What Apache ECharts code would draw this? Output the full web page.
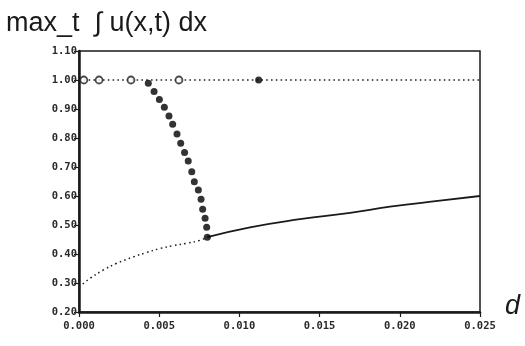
<!DOCTYPE html>
<html>
<head>
<meta charset="utf-8">
<script src="https://cdn.jsdelivr.net/npm/echarts@6/dist/echarts.min.js"></script>
<style>html,body{margin:0;padding:0;background:#fff;}#c{width:525px;height:346px;}</style>
</head>
<body>
<div id="c"></div>
<script>
// ---- data ----
var titleText = "max_t  \u222B u(x,t) dx";
var xAxisLabel = "d";
var xTicks = [0.000, 0.005, 0.010, 0.015, 0.020, 0.025];
var yTicks = [0.20, 0.30, 0.40, 0.50, 0.60, 0.70, 0.80, 0.90, 1.00, 1.10];

// upper branch (dotted line at 1.0)
var upperLine = [[0.0, 1.0], [0.025, 1.0]];
// open circle markers on the upper branch
var openCircles = [[0.0003, 1.0], [0.00125, 1.0], [0.00324, 1.0], [0.00623, 1.0]];
// filled marker on the upper branch
var filledCircles = [[0.0112, 1.0]];
// transition (big dots)
var transitionDots = [
  [0.00432, 0.989], [0.00468, 0.960], [0.00501, 0.933], [0.00532, 0.906],
  [0.00561, 0.876], [0.00584, 0.847], [0.00611, 0.814], [0.00634, 0.782],
  [0.00658, 0.750], [0.00681, 0.721], [0.00703, 0.684], [0.00719, 0.649],
  [0.00744, 0.621], [0.00761, 0.589], [0.00771, 0.554], [0.00786, 0.523],
  [0.00796, 0.492], [0.00800, 0.458]
];
// lower branch, unstable part (dotted)
var lowerDotted = [
  [0.0, 0.286], [0.00069, 0.316], [0.00152, 0.345], [0.00235, 0.368],
  [0.00339, 0.390], [0.00420, 0.405], [0.00505, 0.419], [0.00590, 0.429],
  [0.00670, 0.437], [0.00754, 0.447], [0.00800, 0.458]
];
// lower branch, stable part (solid)
var lowerSolid = [
  [0.00800, 0.458], [0.01066, 0.492], [0.01378, 0.520], [0.0169, 0.542],
  [0.01939, 0.563], [0.0225, 0.584], [0.025, 0.600]
];

var ink = '#1a1a1a';
var tickFont = 'DejaVu Sans Mono';

var chart = echarts.init(document.getElementById('c'), null, {renderer: 'canvas'});
chart.setOption({
  animation: false,
  backgroundColor: '#fff',
  title: {
    text: titleText,
    left: 1, top: 5,
    textStyle: {fontFamily: 'Liberation Sans', fontSize: 27, fontWeight: 'normal', color: ink}
  },
  graphic: [{
    type: 'text', left: 505, top: 293,
    style: {text: xAxisLabel, fontFamily: 'Liberation Sans', fontSize: 27, fontStyle: 'italic', fill: ink}
  }],
  grid: {left: 79, top: 51, right: 45, bottom: 34, show: true, borderColor: ink, borderWidth: 1.5, backgroundColor: 'transparent'},
  xAxis: {
    type: 'value', min: xTicks[0], max: xTicks[xTicks.length - 1], interval: 0.005,
    axisLine: {lineStyle: {color: ink, width: 2.5}},
    axisTick: {show: true, length: 5, lineStyle: {color: ink, width: 1.2}},
    splitLine: {show: false},
    axisLabel: {margin: 9, fontFamily: tickFont, fontSize: 10.5, fontWeight: 'bold', color: '#2a2a2a',
      formatter: function (v) { return v.toFixed(3); }}
  },
  yAxis: {
    type: 'value', min: yTicks[0], max: yTicks[yTicks.length - 1], interval: 0.1,
    axisLine: {show: true, lineStyle: {color: ink, width: 2.5}},
    axisTick: {show: true, length: 5, lineStyle: {color: ink, width: 1.2}},
    splitLine: {show: false},
    axisLabel: {margin: 2, fontFamily: tickFont, fontSize: 10.5, fontWeight: 'bold', color: '#2a2a2a',
      formatter: function (v) { return v.toFixed(2); }}
  },
  series: [
    {type: 'line', data: upperLine, showSymbol: false, symbol: 'none',
      lineStyle: {color: '#222', width: 1.5, type: [1.6, 3.2]}, z: 2},
    {type: 'line', data: lowerDotted, smooth: 0.4, showSymbol: false, symbol: 'none',
      lineStyle: {color: '#222', width: 1.5, type: [1.6, 3.2]}, z: 2},
    {type: 'line', data: lowerSolid, smooth: true, showSymbol: false, symbol: 'none',
      lineStyle: {color: ink, width: 1.8}, z: 3},
    {type: 'scatter', data: transitionDots, symbol: 'circle', symbolSize: 7,
      itemStyle: {color: '#000'}, z: 4},
    {type: 'scatter', data: openCircles, symbol: 'circle', symbolSize: 7,
      itemStyle: {color: '#fff', borderColor: ink, borderWidth: 1.8}, z: 5},
    {type: 'scatter', data: filledCircles, symbol: 'circle', symbolSize: 7,
      itemStyle: {color: '#000'}, z: 5}
  ]
});
</script>
</body>
</html>
